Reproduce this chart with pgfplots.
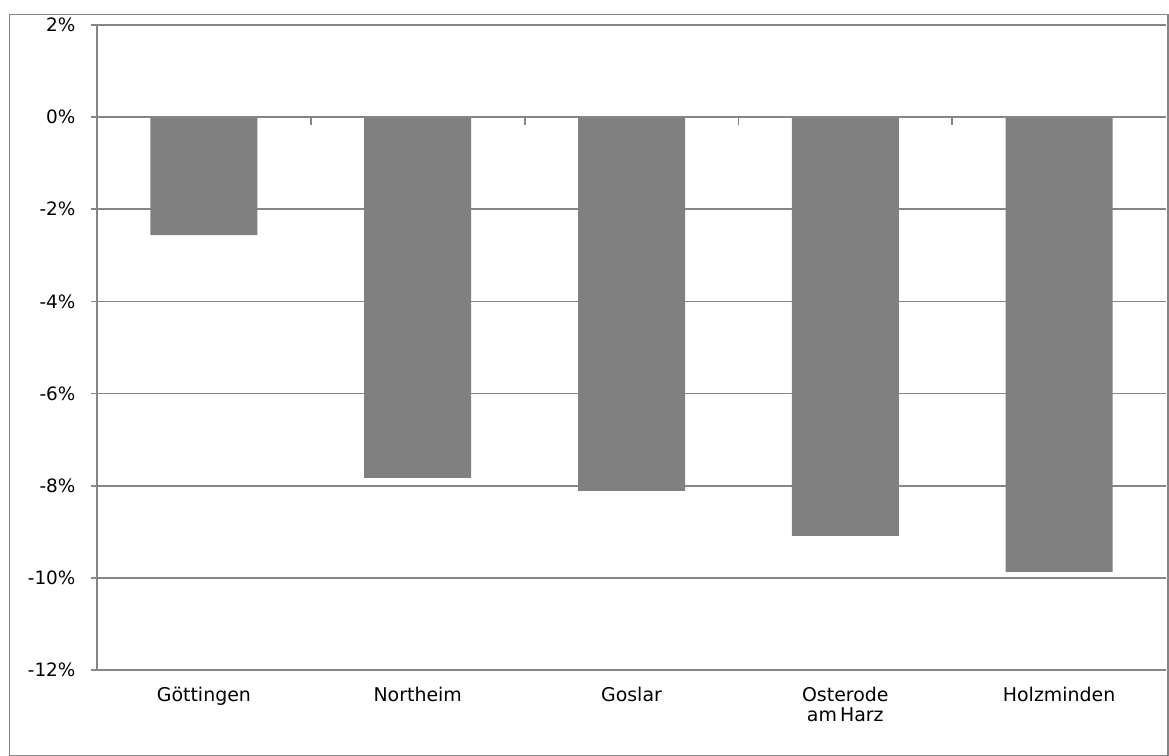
\documentclass[border=0pt]{standalone}
\usepackage{pgfplots}
\pgfplotsset{compat=1.18}
\usepackage{fontspec}
\setmainfont{DejaVu Sans}
\definecolor{barc}{RGB}{128,128,128}
\definecolor{linec}{RGB}{134,134,134}
\begin{document}
\begin{tikzpicture}
\path[use as bounding box] (0bp,0bp) rectangle (1169bp,-756bp);
\draw[linec, line width=1.8bp] (9.5bp,-14.5bp) rectangle (1168bp,-755.5bp);
\begin{axis}[
  at={(97bp,-670bp)}, anchor=south west,
  scale only axis, width=1069bp, height=645bp,
  xmin=-0.5, xmax=4.5, ymin=-12, ymax=2,
  ytick={-12,-10,...,2},
  yticklabel={\pgfmathprintnumber{\tick}\%},
  /pgf/number format/assume math mode=true,
  xtick={0,1,2,3,4},
  xticklabels={G\"ottingen, Northeim, Goslar, {Osterode\\am\,Harz}, Holzminden},
  xticklabel style={align=center, yshift=-8bp, font=\fontsize{19}{20}\selectfont},
  yticklabel style={xshift=-12bp, font=\fontsize{18.5}{20}\selectfont},
  x tick style={draw=none},
  y tick style={linec, line width=1.8bp},
  ytick pos=left, tick align=outside, major tick length=6bp,
  axis line style={draw=none},
  ymajorgrids, grid style={linec, line width=1.8bp},
  clip=false,
]
\addplot[ybar, bar width=107bp, fill=barc, draw=none] coordinates {
  (0,-2.56) (1,-7.83) (2,-8.11) (3,-9.09) (4,-9.87)
};
\draw[linec, line width=1.8bp] (axis cs:-0.5,-12) -- (axis cs:-0.5,2);
\draw[linec, line width=1.8bp] (axis cs:-0.5,0) -- (axis cs:4.5,0);
\pgfplotsinvokeforeach{0.5,1.5,2.5,3.5}{
  \draw[linec, line width=1.8bp] (axis cs:#1,0) -- ++(0bp,-8bp);
}
\end{axis}
\end{tikzpicture}
\end{document}
